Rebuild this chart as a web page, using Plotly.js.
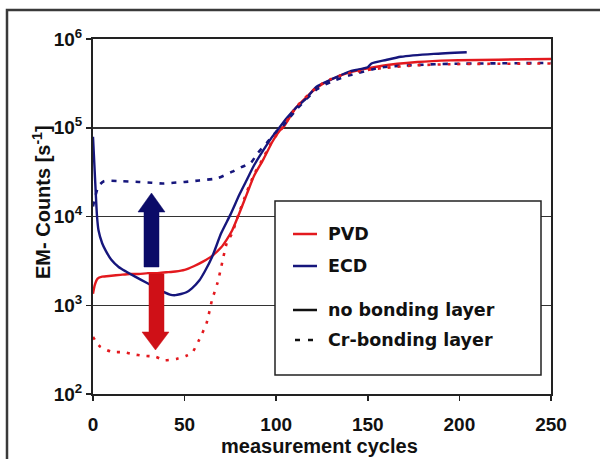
<!DOCTYPE html>
<html>
<head>
<meta charset="utf-8">
<script src="https://cdn.plot.ly/plotly-3.0.1.min.js"></script>
<style>
html,body{margin:0;padding:0;background:#fff;}
#chart{width:600px;height:459px;}
</style>
</head>
<body>
<div id="chart"></div>
<script>
// ---- data ----
const pvdX = [0,1,2.5,5,10,15,20,25,30,35,40,45,50,55,60,65,70,73,76,79,84,88,93,98,102,104,111,122,130,140,158,177,195,250];
const pvdY = [1350,1700,2000,2100,2150,2200,2250,2250,2300,2300,2350,2400,2500,2750,3100,3600,4500,5500,7000,9800,18000,29000,44000,70000,93000,102000,170000,280000,350000,420000,500000,550000,575000,595000];

const ecdX = [0,1,2.2,3,5,7,10,14,18,23,29.5,36,42,45,51,54,58,61,65,70,75,80,84,88,93,98,102,106,111,116,122,130,140,150,152,160,168,186,204];
const ecdY = [79000,30000,10000,7000,5000,4100,3250,2700,2400,2100,1780,1500,1320,1300,1400,1550,1900,2400,3500,6500,10500,17800,26000,38000,56000,80000,102000,130000,170000,210000,290000,350000,430000,480000,530000,580000,630000,680000,710000];

const pvdCrX = [0,2,4,10,17,22,27,34,39,46,51,54,58,62,65,68,70,73,76,79,84,88,93,98,104,111,122,130,140,158,177,195,250];
const pvdCrY = [440,380,340,300,295,280,270,263,240,250,270,290,410,630,1150,1800,2700,5000,6500,10000,19000,30000,46000,72000,104000,172000,285000,355000,415000,470000,505000,520000,530000];

const ecdCrX = [0,1,3,6,15,25,32,38,44,50,58,68,76,81,86,90,95,100,104,111,122,130,140,158,177,195,250];
const ecdCrY = [13000,16000,22000,25000,25000,24500,24000,23500,24000,24500,25500,27000,32000,36000,40000,52000,68000,90000,107000,160000,270000,330000,390000,480000,510000,525000,537000];

const xTickVals = [0,50,100,150,200,250];
const yTickVals = [100,1000,10000,100000,1000000];
const yTickText = ['10<sup>2</sup>','10<sup>3</sup>','10<sup>4</sup>','10<sup>5</sup>','10<sup>6</sup>'];
const legendLabels = ['PVD','ECD','no bonding layer','Cr-bonding layer'];
const xTitle = 'measurement cycles';
const yTitle = 'EM- Counts [s<sup>-1</sup>]';

// ---- styles ----
const RED = '#e3191e';
const BLUE = '#16167c';
const FONT = 'Liberation Sans, Arial, Helvetica, sans-serif';

const W = 600, H = 459;
const L = 93, R = 551, T = 39, B = 394;
const px = v => (v - L) / (R - L);
const py = v => (B - v) / (B - T);
const poly = pts => 'M ' + pts.map(p => px(p[0]).toFixed(5) + ' ' + py(p[1]).toFixed(5)).join(' L ') + ' Z';

const traces = [
  {x: pvdX, y: pvdY, mode: 'lines', line: {color: RED, width: 2.4, shape: 'spline', smoothing: 0.6}, showlegend: false, name: 'PVD'},
  {x: ecdX, y: ecdY, mode: 'lines', line: {color: BLUE, width: 2.4, shape: 'spline', smoothing: 0.6}, showlegend: false, name: 'ECD'},
  {x: ecdCrX, y: ecdCrY, mode: 'lines', line: {color: BLUE, width: 2.6, dash: '5px,7px', shape: 'spline', smoothing: 0.6}, showlegend: false, name: 'ECD Cr'},
  {x: pvdCrX, y: pvdCrY, mode: 'lines', line: {color: RED, width: 2.6, dash: '3px,7px', shape: 'spline', smoothing: 0.6}, showlegend: false, name: 'PVD Cr'}
];

const shapes = [
  // outer frame
  {type: 'rect', xref: 'paper', yref: 'paper', x0: px(7), x1: px(640), y0: py(10), y1: py(520), line: {color: '#3a3a3a', width: 2.5}, layer: 'below'},
  // legend box
  {type: 'rect', xref: 'paper', yref: 'paper', x0: px(275), x1: px(541), y0: py(201), y1: py(375), fillcolor: '#ffffff', line: {color: '#222', width: 1.5}, layer: 'above'},
  {type: 'line', xref: 'paper', yref: 'paper', x0: px(293), x1: px(317), y0: py(234), y1: py(234), line: {color: RED, width: 2.5}},
  {type: 'line', xref: 'paper', yref: 'paper', x0: px(293), x1: px(317), y0: py(266), y1: py(266), line: {color: BLUE, width: 2.5}},
  {type: 'line', xref: 'paper', yref: 'paper', x0: px(293), x1: px(317), y0: py(310), y1: py(310), line: {color: '#111', width: 2.5}},
  {type: 'line', xref: 'paper', yref: 'paper', x0: px(295), x1: px(300), y0: py(340), y1: py(340), line: {color: '#111', width: 2.5}},
  {type: 'line', xref: 'paper', yref: 'paper', x0: px(308), x1: px(313), y0: py(340), y1: py(340), line: {color: '#111', width: 2.5}},
  // blue arrow (up)
  {type: 'path', xref: 'paper', yref: 'paper', layer: 'above', fillcolor: '#0b0b68', line: {color: '#0b0b68', width: 0.5},
   path: poly([[144,267],[144,212],[138,212],[151.5,193],[165,212],[159,212],[159,267]])},
  // red arrow (down)
  {type: 'path', xref: 'paper', yref: 'paper', layer: 'above', fillcolor: '#cf1017', line: {color: '#cf1017', width: 0.5},
   path: poly([[149,274],[149,332],[142,332],[155.5,350],[169,332],[164,332],[164,274]])}
];

const legY = [234, 266, 310, 340];
const annotations = legendLabels.map((t, i) => ({
  xref: 'paper', yref: 'paper', x: px(326), y: py(legY[i]), xanchor: 'left', yanchor: 'middle',
  text: t, showarrow: false, font: {family: 'DejaVu Sans, sans-serif', size: 17.5, color: '#111', weight: 'bold'}
}));
annotations.push({
  xref: 'paper', yref: 'paper', x: px(41), y: py(202), xanchor: 'center', yanchor: 'middle', textangle: -90,
  text: yTitle, showarrow: false, font: {family: FONT, size: 20, color: '#111', weight: 'bold'}
});
annotations.push({
  xref: 'paper', yref: 'paper', x: px(319), y: py(446), xanchor: 'center', yanchor: 'middle',
  text: xTitle, showarrow: false, font: {family: FONT, size: 20, color: '#111', weight: 'bold'}
});

const layout = {
  width: W, height: H,
  margin: {l: L, r: W - R, t: T, b: H - B, pad: 0},
  paper_bgcolor: '#ffffff', plot_bgcolor: '#ffffff',
  showlegend: false,
  font: {family: FONT, color: '#111', size: 20},
  xaxis: {
    range: [0, 250], tickvals: xTickVals, ticks: 'outside', ticklen: 5, tickwidth: 1.5, tickcolor: '#222',
    showline: true, linecolor: '#222', linewidth: 2, mirror: true, showgrid: false, zeroline: false,
    tickfont: {family: FONT, size: 19, color: '#111', weight: 'bold'}, ticklabelstandoff: 7
  },
  yaxis: {
    type: 'log', range: [2, 6], tickvals: yTickVals, ticktext: yTickText, ticks: 'outside', ticklen: 5, tickwidth: 1.5, tickcolor: '#222',
    showline: true, linecolor: '#222', linewidth: 2, mirror: true, showgrid: true, gridcolor: '#333', gridwidth: 1.5, zeroline: false,
    tickfont: {family: FONT, size: 19, color: '#111', weight: 'bold'}
  },
  shapes: shapes,
  annotations: annotations
};

Plotly.newPlot('chart', traces, layout, {staticPlot: true, displayModeBar: false});
</script>
</body>
</html>
